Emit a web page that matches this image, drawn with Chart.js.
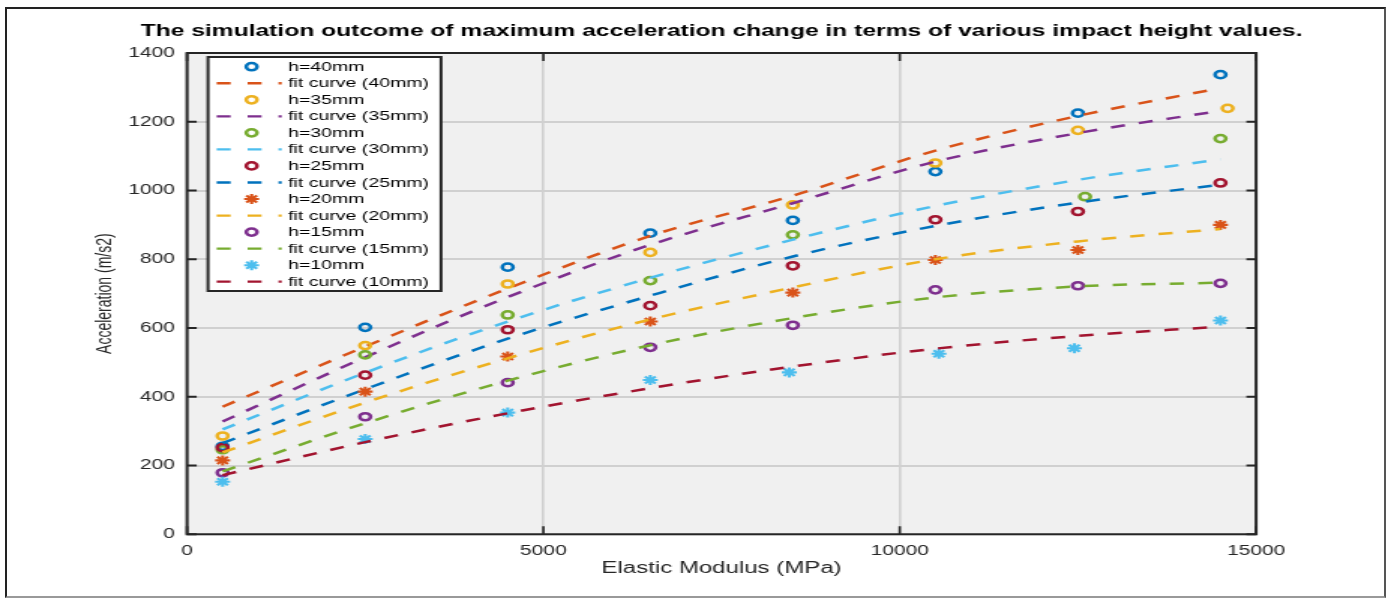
<!DOCTYPE html>
<html>
<head>
<meta charset="utf-8">
<title>Maximum acceleration vs elastic modulus</title>
<script src="https://cdn.jsdelivr.net/npm/chart.js@4.4.1/dist/chart.umd.min.js"></script>
<style>
  html, body { margin: 0; padding: 0; background: #fff; overflow: hidden; }
  /* the figure is drawn narrow and widened horizontally */
  #stage { position: absolute; left: 0; top: 0; width: 927px; height: 601px;
           transform: scale(1.50054, 1); transform-origin: 0 0; }
  #frame { position: absolute; left: 5px; top: 7px; width: 1381px; height: 591px;
           box-sizing: border-box; border: 2px solid #222;
           border-right-color: #555; border-bottom-color: #999; pointer-events: none; }
</style>
</head>
<body>
<div id="stage"><canvas id="chart" width="927" height="601"></canvas></div>
<div id="frame"></div>
<script>
// ---- data: elastic modulus (MPa) vs maximum acceleration (m/s2) ----
const heights = ['40', '35', '30', '25', '20', '15', '10'];

const modulus = [500, 2500, 4500, 6500, 8500, 10500, 12500, 14500];
const modulus35 = [500, 2500, 4500, 6500, 8500, 10500, 12500, 14600];
const modulus30 = [500, 2500, 4500, 6500, 8500, 12600, 14500];
const modulus10 = [500, 2500, 4500, 6500, 8450, 10550, 12450, 14500];

const acc40 = [256, 602, 777, 876, 913, 1055, 1225, 1337];
const acc35 = [286, 549, 728, 820, 958, 1080, 1175, 1239];
const acc30 = [246, 522, 638, 738, 871, 982, 1151];
const acc25 = [252, 463, 595, 665, 781, 915, 939, 1022];
const acc20 = [215, 415, 517, 619, 703, 798, 827, 900];
const acc15 = [179, 342, 441, 544, 608, 711, 723, 730];
const acc10 = [153, 277, 354, 449, 471, 525, 541, 622];

const fitModulus = [500, 2500, 4500, 6500, 8500, 10500, 12500, 14500];
const fit40 = [371, 546, 715, 868, 985, 1116, 1217, 1298];
const fit35 = [328, 515, 690, 842, 963, 1084, 1167, 1232];
const fit30 = [305, 470, 619, 746, 857, 955, 1031, 1091];
const fit25 = [265, 422, 569, 694, 808, 897, 965, 1017];
const fit20 = [238, 383, 512, 625, 718, 800, 852, 888];
const fit15 = [183, 323, 447, 550, 629, 689, 721, 732];
const fit10 = [172, 268, 352, 425, 488, 540, 577, 604];

const xTickValues = [0, 5000, 10000, 15000];
const yTickValues = [0, 200, 400, 600, 800, 1000, 1200, 1400];

const chartTitle = 'The simulation outcome of maximum acceleration change in terms of various impact height values.';
const xTitle = 'Elastic Modulus (MPa)';
const yTitle = 'Acceleration (m/s2)';

// ---- styling ----
const C = {
  blue: '#0072BD', orange: '#D95319', yellow: '#EDB120', purple: '#7E2F8E',
  green: '#77AC30', cyan: '#4DBEEE', red: '#A2142F'
};
const series = [
  { h: heights[0], xs: modulus,   ys: acc40, marker: 'circle', mc: C.blue,   fit: fit40, lc: C.orange },
  { h: heights[1], xs: modulus35, ys: acc35, marker: 'circle', mc: C.yellow, fit: fit35, lc: C.purple },
  { h: heights[2], xs: modulus30, ys: acc30, marker: 'circle', mc: C.green,  fit: fit30, lc: C.cyan },
  { h: heights[3], xs: modulus,   ys: acc25, marker: 'circle', mc: C.red,    fit: fit25, lc: C.blue },
  { h: heights[4], xs: modulus,   ys: acc20, marker: 'star',   mc: C.orange, fit: fit20, lc: C.yellow },
  { h: heights[5], xs: modulus,   ys: acc15, marker: 'circle', mc: C.purple, fit: fit15, lc: C.green },
  { h: heights[6], xs: modulus10, ys: acc10, marker: 'star',   mc: C.cyan,   fit: fit10, lc: C.red }
];

const DASH = [9.5, 9.5];
const pts = (xs, ys) => ys.map((y, i) => ({ x: xs[i], y }));

const datasets = [];
series.forEach(s => {
  const star = s.marker === 'star';
  datasets.push({
    label: 'h=' + s.h + 'mm',
    data: pts(s.xs, s.ys),
    showLine: false,
    pointStyle: s.marker,
    pointRadius: star ? 5 : 3.6,
    pointHoverRadius: star ? 5 : 3.6,
    pointBorderWidth: star ? 2.1 : 2.5,
    pointBorderColor: s.mc,
    pointBackgroundColor: 'rgba(0,0,0,0)',
    borderColor: s.mc
  });
  datasets.push({
    label: 'fit curve (' + s.h + 'mm)',
    data: pts(fitModulus, s.fit),
    showLine: true,
    borderColor: s.lc,
    borderWidth: 2.5,
    borderDash: DASH,
    cubicInterpolationMode: 'monotone',
    pointRadius: 0,
    pointHoverRadius: 0,
    fill: false
  });
});
// later series are painted over earlier ones
datasets.forEach((d, i) => { d.order = -i; });

const INK = '#262626';
const FONT = '"Liberation Sans", Arial, Helvetica, sans-serif';

function drawMarker(ctx, style, x, y, r, lw, color) {
  ctx.save();
  ctx.strokeStyle = color;
  ctx.lineWidth = lw;
  ctx.beginPath();
  if (style === 'star') {
    for (let k = 0; k < 4; k++) {
      const a = k * Math.PI / 4;
      ctx.moveTo(x - r * Math.cos(a), y - r * Math.sin(a));
      ctx.lineTo(x + r * Math.cos(a), y + r * Math.sin(a));
    }
  } else {
    ctx.arc(x, y, r, 0, Math.PI * 2);
  }
  ctx.stroke();
  ctx.restore();
}

const plotBackground = {
  id: 'plotBackground',
  beforeDraw(chart) {
    const { ctx, chartArea: a } = chart;
    ctx.save();
    ctx.fillStyle = '#f0f0f0';
    ctx.fillRect(a.left, a.top, a.right - a.left, a.bottom - a.top);
    ctx.restore();
  }
};

const axesBox = {
  id: 'axesBox',
  afterDraw(chart) {
    const { ctx, chartArea: a, scales } = chart;
    ctx.save();
    ctx.strokeStyle = INK;
    // inward tick marks on all four sides
    ctx.lineWidth = 2;
    ctx.beginPath();
    yTickValues.forEach(v => {
      const py = scales.y.getPixelForValue(v);
      ctx.moveTo(a.left, py); ctx.lineTo(a.left + 6.5, py);
      ctx.moveTo(a.right, py); ctx.lineTo(a.right - 6.5, py);
    });
    ctx.stroke();
    ctx.lineWidth = 1.6;
    ctx.beginPath();
    xTickValues.forEach(v => {
      const px = scales.x.getPixelForValue(v);
      ctx.moveTo(px, a.bottom); ctx.lineTo(px, a.bottom - 8);
      ctx.moveTo(px, a.top); ctx.lineTo(px, a.top + 8);
    });
    ctx.stroke();
    ctx.lineWidth = 2;
    ctx.strokeRect(a.left, a.top, a.right - a.left, a.bottom - a.top);
    ctx.restore();
  }
};

const boxedLegend = {
  id: 'boxedLegend',
  afterDraw(chart) {
    const { ctx } = chart;
    const L = 138.6, T = 57, W = 155.3, H = 234;
    ctx.save();
    ctx.fillStyle = '#ffffff';
    ctx.fillRect(L, T, W, H);
    ctx.strokeStyle = INK;
    ctx.lineWidth = 2;
    ctx.strokeRect(L, T, W, H);
    const rowH = 16.54;
    const y0 = 66.7;
    ctx.font = '13px ' + FONT;
    ctx.textBaseline = 'middle';
    ctx.textAlign = 'left';
    chart.data.datasets.forEach((d, i) => {
      const y = y0 + i * rowH;
      if (d.showLine) {
        ctx.save();
        ctx.strokeStyle = d.borderColor;
        ctx.lineWidth = 2.3;
        ctx.setLineDash([9.3, 11.3]);
        ctx.beginPath();
        ctx.moveTo(144.4, y); ctx.lineTo(187.7, y);
        ctx.stroke();
        ctx.restore();
      } else {
        drawMarker(ctx, d.pointStyle, 167.7, y, d.pointRadius, d.pointBorderWidth, d.pointBorderColor);
      }
      ctx.fillStyle = '#000';
      ctx.fillText(d.label, 192, y + 0.5);
    });
    ctx.restore();
  }
};

const centeredTitle = {
  id: 'centeredTitle',
  afterDraw(chart) {
    const { ctx, chartArea: a } = chart;
    ctx.save();
    ctx.font = 'bold 16.4px ' + FONT;
    ctx.fillStyle = '#000';
    ctx.textAlign = 'center';
    ctx.textBaseline = 'middle';
    ctx.fillText(chartTitle, (a.left + a.right) / 2, 31);
    ctx.restore();
  }
};

new Chart(document.getElementById('chart'), {
  type: 'scatter',
  data: { datasets },
  options: {
    responsive: false,
    animation: false,
    devicePixelRatio: 1,
    layout: { padding: { left: 0, top: 53, right: 89.9, bottom: 0 } },
    plugins: { legend: { display: false }, tooltip: { enabled: false }, title: { display: false } },
    scales: {
      x: {
        type: 'linear',
        min: 0, max: 15000,
        afterBuildTicks: s => { s.ticks = xTickValues.map(v => ({ value: v })); },
        afterFit: s => { s.height = 66.7; },
        ticks: { callback: v => String(v), color: INK, font: { family: FONT, size: 14 }, padding: 8, maxRotation: 0 },
        grid: { color: '#d0d0d0', lineWidth: 1.6, drawTicks: false },
        border: { display: false },
        title: { display: true, text: xTitle, color: INK, font: { family: FONT, size: 16 }, padding: { top: 0, bottom: 22.4 } }
      },
      y: {
        type: 'linear',
        min: 0, max: 1400,
        afterBuildTicks: s => { s.ticks = yTickValues.map(v => ({ value: v })); },
        afterFit: s => { s.width = 124.6; },
        ticks: { callback: v => String(v), color: INK, font: { family: FONT, size: 14 }, padding: 8 },
        grid: { color: '#d0d0d0', lineWidth: 2, drawTicks: false },
        border: { display: false },
        title: { display: true, text: yTitle, color: INK, font: { family: FONT, size: 14 }, padding: { top: 61.5, bottom: 0 } }
      }
    }
  },
  plugins: [plotBackground, axesBox, boxedLegend, centeredTitle]
});
</script>
</body>
</html>
